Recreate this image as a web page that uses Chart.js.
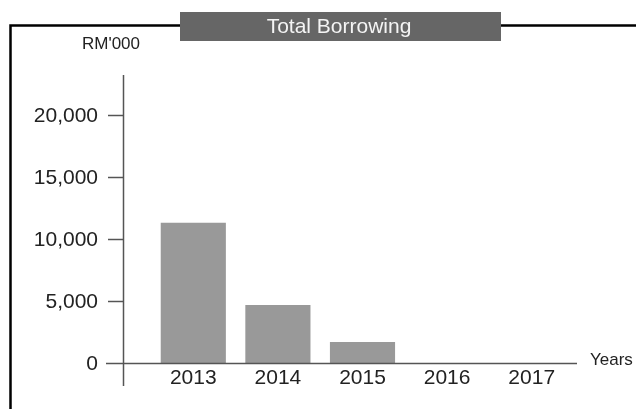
<!DOCTYPE html>
<html>
  <head>
    <script src="https://cdn.jsdelivr.net/npm/chart.js"></script>
    <title>Total Borrowing</title>
    <style>
      body {
        margin: 0;
        background: #ffffff;
      }
      #grafico {
        display: block;
      }
    </style>
  </head>

  <body>
    <canvas id="grafico" width="636" height="409"></canvas>
    <script>
      // datos del grafico
      const years = ["2013", "2014", "2015", "2016", "2017"];
      const borrowing = [11290, 4680, 1690, 0, 0];
      const yTicks = [0, 5000, 10000, 15000, 20000];
      const titulo = "Total Borrowing";
      const unidad = "RM'000";
      const ejeX = "Years";

      const FUENTE = "'Liberation Sans', Arial, sans-serif";

      // marco, caja del titulo y eje y dibujados a mano con las escalas del grafico
      const decoracion = {
        id: "decoracion",
        beforeDraw(chart) {
          const ctx = chart.ctx;
          ctx.save();
          ctx.fillStyle = "#ffffff";
          ctx.fillRect(0, 0, chart.width, chart.height);

          // marco negro
          ctx.strokeStyle = "#000000";
          ctx.lineWidth = 2.5;
          ctx.beginPath();
          ctx.moveTo(10.5, chart.height);
          ctx.lineTo(10.5, 25.5);
          ctx.lineTo(chart.width, 25.5);
          ctx.stroke();

          // caja del titulo
          ctx.fillStyle = "#666666";
          ctx.fillRect(180, 12, 321, 29);
          ctx.fillStyle = "#f4f4f4";
          ctx.font = "21px " + FUENTE;
          ctx.textAlign = "center";
          ctx.textBaseline = "middle";
          ctx.fillText(titulo, 339, 27);

          ctx.fillStyle = "#222222";
          ctx.font = "17px " + FUENTE;
          ctx.fillText(unidad, 111, 44);
          ctx.restore();
        },
        afterDatasetsDraw(chart) {
          const ctx = chart.ctx;
          const y = chart.scales.y;
          const area = chart.chartArea;
          const ejeXpos = 123.5;
          ctx.save();
          ctx.strokeStyle = "#555555";
          ctx.lineWidth = 1.5;

          // eje y
          ctx.beginPath();
          ctx.moveTo(ejeXpos, area.top);
          ctx.lineTo(ejeXpos, 386);
          ctx.stroke();

          // eje x
          const y0 = Math.round(y.getPixelForValue(0)) + 0.5;
          ctx.beginPath();
          ctx.moveTo(106, y0);
          ctx.lineTo(577, y0);
          ctx.stroke();

          // marcas y etiquetas del eje y
          ctx.fillStyle = "#222222";
          ctx.font = "21px " + FUENTE;
          ctx.textAlign = "right";
          ctx.textBaseline = "middle";
          yTicks.forEach((v) => {
            const py = Math.round(y.getPixelForValue(v)) + 0.5;
            if (v !== 0) {
              ctx.beginPath();
              ctx.moveTo(108, py);
              ctx.lineTo(ejeXpos, py);
              ctx.stroke();
            }
            ctx.fillText(v.toLocaleString("en-US"), 98, py + 1);
          });

          ctx.font = "17px " + FUENTE;
          ctx.textAlign = "left";
          ctx.fillText(ejeX, 590, y0 - 3);
          ctx.restore();
        },
      };

      const canvas = document.getElementById("grafico");
      const grafico = new Chart(canvas, {
        type: "bar",
        data: {
          labels: years,
          datasets: [
            {
              label: titulo,
              data: borrowing,
              backgroundColor: "#999999",
              borderWidth: 0,
              barPercentage: 0.77,
              categoryPercentage: 1,
            },
          ],
        },
        options: {
          responsive: false,
          animation: false,
          layout: {
            padding: { left: 151, right: 62, top: 75, bottom: 16 },
          },
          plugins: {
            legend: { display: false },
            tooltip: { enabled: false },
          },
          scales: {
            x: {
              grid: { display: false, drawTicks: false },
              border: { display: false },
              ticks: {
                color: "#222222",
                font: { family: FUENTE, size: 21 },
                padding: 3,
                maxRotation: 0,
              },
              afterFit(scale) {
                scale.height = 30;
              },
            },
            y: {
              display: false,
              min: 0,
              max: 23200,
            },
          },
        },
        plugins: [decoracion],
      });
    </script>
  </body>
</html>
